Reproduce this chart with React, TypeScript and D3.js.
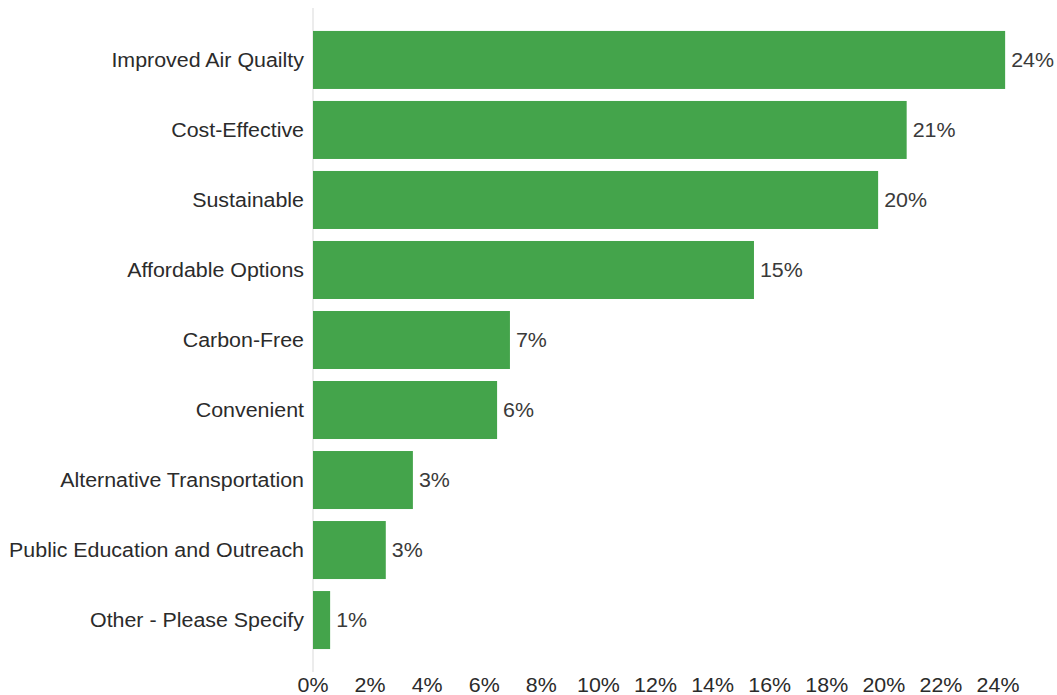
import React from "react";
import * as d3 from "d3";

const categories = [
  "Improved Air Quailty",
  "Cost-Effective",
  "Sustainable",
  "Affordable Options",
  "Carbon-Free",
  "Convenient",
  "Alternative Transportation",
  "Public Education and Outreach",
  "Other - Please Specify",
];
const values = [24.25, 20.8, 19.8, 15.45, 6.9, 6.45, 3.5, 2.55, 0.6];
const valueLabels = ["24%", "21%", "20%", "15%", "7%", "6%", "3%", "3%", "1%"];
const tickValues = [0, 2, 4, 6, 8, 10, 12, 14, 16, 18, 20, 22, 24];

const W = 1057;
const H = 695;
const left = 313;
const FONT = "'Liberation Sans', Arial, Helvetica, sans-serif";
const FS = 20;
const SX = 1.07;

function Label(props: { x: number; y: number; anchor: string; fill: string; children: string }) {
  return (
    <text
      transform={`translate(${props.x},${props.y}) scale(${SX},1)`}
      dy="0.35em"
      textAnchor={props.anchor}
      fontFamily={FONT}
      fontSize={FS}
      fill={props.fill}
    >
      {props.children}
    </text>
  );
}

export default function App() {
  const x = d3.scaleLinear().domain([0, 24]).range([left, 998]);
  const y = d3
    .scaleBand<string>()
    .domain(categories)
    .range([25, 655])
    .paddingInner(12 / 70)
    .paddingOuter(0.085);

  return (
    <svg
      width={W}
      height={H}
      style={{ position: "absolute", left: 0, top: 0, background: "#fff" }}
    >
      <line x1={left} x2={left} y1={8} y2={672} stroke="#e6e6e6" strokeWidth={1.5} />
      {categories.map((c, i) => (
        <g key={c}>
          <rect
            x={x(0)}
            y={y(c)!}
            width={x(values[i]) - x(0)}
            height={y.bandwidth()}
            fill="#44a44b"
          />
          <Label x={left - 9} y={y(c)! + y.bandwidth() / 2} anchor="end" fill="#2b2b2b">
            {c}
          </Label>
          <Label x={x(values[i]) + 6} y={y(c)! + y.bandwidth() / 2} anchor="start" fill="#3a3a3a">
            {valueLabels[i]}
          </Label>
        </g>
      ))}
      {tickValues.map((t) => (
        <Label key={t} x={x(t)} y={685} anchor="middle" fill="#2b2b2b">
          {t + "%"}
        </Label>
      ))}
    </svg>
  );
}
